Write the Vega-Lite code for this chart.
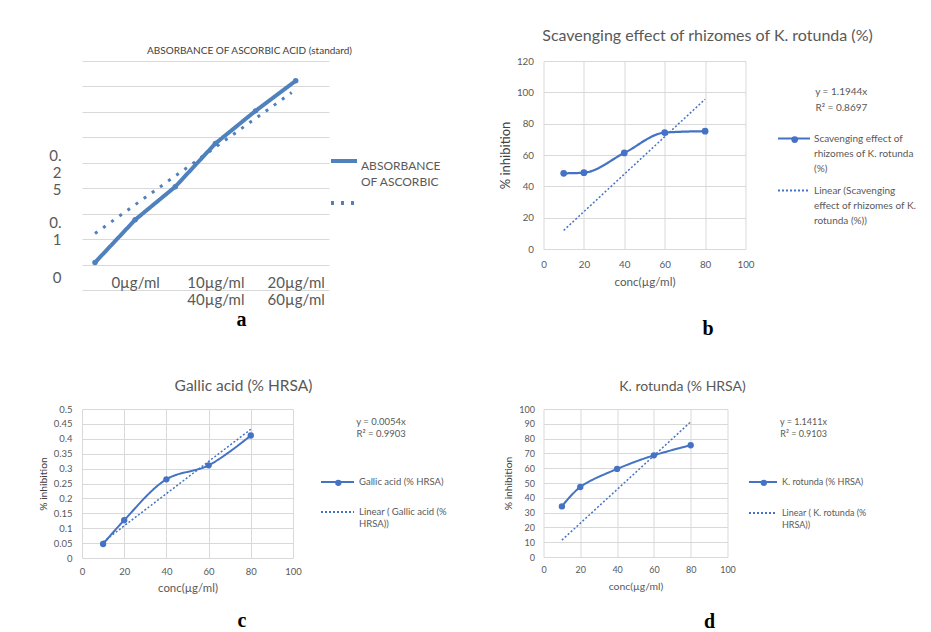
{
  "$schema": "https://vega.github.io/schema/vega-lite/v6.json",
  "background": "white",
  "padding": {"left": 38, "top": 27, "right": 0, "bottom": 0},
  "columns": 2,
  "bounds": "flush",
  "align": "each",
  "spacing": {"row": 119, "column": 214.5},
  "resolve": {"scale": {"strokeDash": "independent", "shape": "independent"}, "legend": {"strokeDash": "independent", "shape": "independent"}},
  "datasets": {
    "aS": [
      {"series": "ABSORBANCE OF ASCORBIC ACID (standard)", "x": 0, "y": 0.004},
      {"series": "ABSORBANCE OF ASCORBIC ACID (standard)", "x": 1, "y": 0.088},
      {"series": "ABSORBANCE OF ASCORBIC ACID (standard)", "x": 2, "y": 0.153},
      {"series": "ABSORBANCE OF ASCORBIC ACID (standard)", "x": 3, "y": 0.238},
      {"series": "ABSORBANCE OF ASCORBIC ACID (standard)", "x": 4, "y": 0.302},
      {"series": "ABSORBANCE OF ASCORBIC ACID (standard)", "x": 5, "y": 0.361}
    ],
    "aT": [
      {"series": "Linear (ABSORBANCE OF ASCORBIC ACID (standard))", "x": 0, "y": 0.061},
      {"series": "Linear (ABSORBANCE OF ASCORBIC ACID (standard))", "x": 4.9, "y": 0.338}
    ],
    "bS": [
      {"series": "Scavenging effect of rhizomes of K. rotunda (%)", "x": 10, "y": 48.3},
      {"series": "Scavenging effect of rhizomes of K. rotunda (%)", "x": 20, "y": 48.7},
      {"series": "Scavenging effect of rhizomes of K. rotunda (%)", "x": 40, "y": 61.3},
      {"series": "Scavenging effect of rhizomes of K. rotunda (%)", "x": 60, "y": 74.3},
      {"series": "Scavenging effect of rhizomes of K. rotunda (%)", "x": 80, "y": 75.2}
    ],
    "bT": [
      {"series": "Linear (Scavenging effect of rhizomes of K. rotunda (%))", "x": 10, "y": 11.9},
      {"series": "Linear (Scavenging effect of rhizomes of K. rotunda (%))", "x": 80, "y": 95.6}
    ],
    "cS": [
      {"series": "Gallic acid (% HRSA)", "x": 10, "y": 0.047},
      {"series": "Gallic acid (% HRSA)", "x": 20, "y": 0.127},
      {"series": "Gallic acid (% HRSA)", "x": 40, "y": 0.264},
      {"series": "Gallic acid (% HRSA)", "x": 60, "y": 0.311},
      {"series": "Gallic acid (% HRSA)", "x": 80, "y": 0.411}
    ],
    "cT": [
      {"series": "Linear ( Gallic acid (% HRSA))", "x": 10, "y": 0.054},
      {"series": "Linear ( Gallic acid (% HRSA))", "x": 80, "y": 0.432}
    ],
    "dS": [
      {"series": "K. rotunda (% HRSA)", "x": 10, "y": 34.2},
      {"series": "K. rotunda (% HRSA)", "x": 20, "y": 47.3},
      {"series": "K. rotunda (% HRSA)", "x": 40, "y": 59.5},
      {"series": "K. rotunda (% HRSA)", "x": 60, "y": 68.7},
      {"series": "K. rotunda (% HRSA)", "x": 80, "y": 75.5}
    ],
    "dT": [
      {"series": "Linear ( K. rotunda (% HRSA))", "x": 10, "y": 11.4},
      {"series": "Linear ( K. rotunda (% HRSA))", "x": 80, "y": 91.3}
    ]
  },
  "concat": [
    {
      "width": 247,
      "height": 229,
      "title": {"text": "a", "orient": "bottom", "anchor": "middle", "frame": "group", "dx": 36, "offset": 3, "font": "Liberation Serif", "fontSize": 20, "fontWeight": "bold", "color": "#000000"},
      "layer": [
        {
          "data": {"name": "aT"},
          "mark": {"type": "line", "strokeWidth": 3, "color": "#4F81BD", "strokeCap": "butt"},
          "encoding": {
            "x": {"field": "x", "type": "quantitative", "scale": {"domain": [-0.324, 5.83], "nice": false, "zero": false},
              "axis": {"orient": "top", "title": "ABSORBANCE OF ASCORBIC ACID (standard)", "labels": false, "grid": false, "titleFontSize": 10, "titleColor": "#404040", "titleX": 167, "titlePadding": 6}},
            "y": {"field": "y", "type": "quantitative", "scale": {"domain": [-0.05, 0.4], "nice": false, "zero": false},
              "axis": {"orient": "right", "labels": false, "grid": true, "values": [-0.05, 0, 0.05, 0.1, 0.15, 0.2, 0.25, 0.3, 0.35, 0.4], "title": null}},
            "strokeDash": {"field": "series", "type": "nominal",
              "scale": {"domain": ["ABSORBANCE OF ASCORBIC ACID (standard)", "Linear (ABSORBANCE OF ASCORBIC ACID (standard))"], "range": [[1, 0], [3, 7]]},
              "legend": {
                "orient": "none", "legendX": 247, "legendY": 85, "title": null, "padding": 0,
                "labelExpr": "datum.value == 'ABSORBANCE OF ASCORBIC ACID (standard)' ? ['ABSORBANCE','OF ASCORBIC'] : ''",
                "labelFontSize": 12, "labelColor": "#595959", "labelFont": "Lato", "labelBaseline": "top", "labelOffset": 2, "labelLimit": 300,
                "symbolType": "stroke", "symbolSize": 676, "symbolStrokeWidth": 4, "symbolStrokeColor": "#4F81BD", "rowPadding": 0,
                "encode": {"labels": {"update": {"lineHeight": {"value": 16}}}}
              }}
          }
        },
        {
          "data": {"name": "aS"},
          "mark": {"type": "line", "strokeWidth": 4, "color": "#4F81BD", "point": {"filled": true, "size": 30, "color": "#4F81BD"}},
          "encoding": {
            "x": {"field": "x", "type": "quantitative",
              "axis": {"orient": "bottom", "offset": -26, "values": [1, 3, 5], "labelExpr": "datum.value == 1 ? '0µg/ml' : datum.value == 3 ? ['10µg/ml','40µg/ml'] : ['20µg/ml','60µg/ml']", "labelFontSize": 15, "labelLineHeight": 17, "labelPadding": 11, "grid": false, "title": null}},
            "y": {"field": "y", "type": "quantitative",
              "axis": {"orient": "left", "values": [-0.0264, 0.0817, 0.215], "labelExpr": "datum.value < 0 ? '0' : datum.value < 0.1 ? ['0.','1'] : ['0.','2','5']", "labelFontSize": 15, "labelLineHeight": 17, "labelPadding": 21, "grid": false, "title": null}},
            "strokeDash": {"field": "series", "type": "nominal"}
          }
        }
      ]
    },
    {
      "width": 202,
      "height": 188,
      "title": {"text": "b", "orient": "bottom", "anchor": "middle", "frame": "group", "dx": 63.5, "offset": 31, "font": "Liberation Serif", "fontSize": 20, "fontWeight": "bold", "color": "#000000"},
      "encoding": {
        "y": {"field": "y", "type": "quantitative", "scale": {"domain": [0, 120]},
          "axis": {"values": [0, 20, 40, 60, 80, 100, 120], "title": "% inhibition", "labelFontSize": 9.8, "labelPadding": 10, "titleFontSize": 13, "titlePadding": 4, "titleColor": "#404040"}}
      },
      "layer": [
        {
          "data": {"name": "bT"},
          "mark": {"type": "line", "strokeWidth": 1.5, "color": "#4472C4"},
          "encoding": {
            "x": {"field": "x", "type": "quantitative", "scale": {"domain": [0, 100]},
              "axis": {"orient": "top", "title": "Scavenging effect of rhizomes of K. rotunda (%)", "labels": false, "grid": false, "titleFontSize": 16, "titleX": 163.5, "titlePadding": 18}},
            "strokeDash": {"field": "series", "type": "nominal",
              "scale": {"domain": ["Scavenging effect of rhizomes of K. rotunda (%)", "Linear (Scavenging effect of rhizomes of K. rotunda (%))"], "range": [[1, 0], [2, 2]]},
              "legend": {
                "orient": "none", "legendX": 233.5, "legendY": 25.5, "padding": 0,
                "title": ["\u200b\u00a0\u00a0\u00a0\u00a0\u00a0\u00a0\u00a0\u00a0\u00a0\u00a0\u00a0\u00a0\u00a0\u00a0\u00a0y = 1.1944x", "\u200b\u00a0\u00a0\u00a0\u00a0\u00a0\u00a0\u00a0\u00a0\u00a0\u00a0\u00a0\u00a0\u00a0\u00a0\u00a0R² = 0.8697"],
                "titleFontSize": 10, "titleFontWeight": "normal", "titleColor": "#595959", "titleFont": "Lato", "titlePadding": 9,
                "labelExpr": "datum.value == 'Scavenging effect of rhizomes of K. rotunda (%)' ? ['Scavenging effect of','rhizomes of K. rotunda','(%)'] : ['Linear (Scavenging','effect of rhizomes of K.','rotunda (%))']",
                "labelFontSize": 10, "labelColor": "#595959", "labelFont": "Lato", "labelBaseline": "middle", "labelOffset": 3, "labelLimit": 300,
                "symbolType": "stroke", "symbolSize": 1024, "symbolStrokeWidth": 2, "symbolStrokeColor": "#4472C4", "rowPadding": -3,
                "encode": {
                  "labels": {"update": {"lineHeight": {"value": 15}}},
                  "title": {"update": {"lineHeight": {"value": 16}}}
                }
              }}
          }
        },
        {
          "data": {"name": "bS"},
          "mark": {"type": "line", "interpolate": "monotone", "strokeWidth": 2.25, "color": "#4472C4"},
          "encoding": {
            "x": {"field": "x", "type": "quantitative",
              "axis": {"orient": "bottom", "values": [0, 20, 40, 60, 80, 100], "title": "conc(µg/ml)", "grid": true, "labelFontSize": 9.8, "labelPadding": 10, "titleFontSize": 11.6, "titlePadding": 8}},
            "strokeDash": {"field": "series", "type": "nominal"}
          }
        },
        {
          "data": {"name": "bS"},
          "mark": {"type": "point", "filled": true, "size": 45, "color": "#4472C4", "opacity": 1},
          "encoding": {
            "x": {"field": "x", "type": "quantitative", "axis": null},
            "shape": {"field": "series", "type": "nominal", "scale": {"range": ["circle"]},
              "legend": {"orient": "none", "legendX": 246.2, "legendY": 73.6, "title": null, "padding": 0, "labelExpr": "''", "symbolSize": 45, "symbolFillColor": "#4472C4", "symbolStrokeColor": "#4472C4", "symbolOpacity": 1}}
          }
        }
      ]
    },
    {
      "width": 211,
      "height": 149,
      "title": {"text": "c", "orient": "bottom", "anchor": "middle", "frame": "group", "dx": 54.5, "offset": 17, "font": "Liberation Serif", "fontSize": 20, "fontWeight": "bold", "color": "#000000"},
      "encoding": {
        "y": {"field": "y", "type": "quantitative", "scale": {"domain": [0, 0.5]},
          "axis": {"values": [0, 0.05, 0.1, 0.15, 0.2, 0.25, 0.3, 0.35, 0.4, 0.45, 0.5], "labelExpr": "format(datum.value, '.2~f')", "title": "% inhibition", "labelFontSize": 9.5, "labelPadding": 10, "titleFontSize": 10.3, "titlePadding": 5, "titleColor": "#404040"}}
      },
      "layer": [
        {
          "data": {"name": "cT"},
          "mark": {"type": "line", "strokeWidth": 1.5, "color": "#4472C4"},
          "encoding": {
            "x": {"field": "x", "type": "quantitative", "scale": {"domain": [0, 100]},
              "axis": {"orient": "top", "title": "Gallic acid (% HRSA)", "labels": false, "grid": false, "titleFontSize": 15.5, "titleX": 161, "titlePadding": 16}},
            "strokeDash": {"field": "series", "type": "nominal",
              "scale": {"domain": ["Gallic acid (% HRSA)", "Linear ( Gallic acid (% HRSA))"], "range": [[1, 0], [2, 2]]},
              "legend": {
                "orient": "none", "legendX": 238, "legendY": 8, "padding": 0,
                "title": ["\u200b\u00a0\u00a0\u00a0\u00a0\u00a0\u00a0\u00a0\u00a0\u00a0\u00a0\u00a0\u00a0\u00a0\u00a0\u00a0y = 0.0054x", "\u200b\u00a0\u00a0\u00a0\u00a0\u00a0\u00a0\u00a0\u00a0\u00a0\u00a0\u00a0\u00a0\u00a0\u00a0\u00a0R² = 0.9903"],
                "titleFontSize": 9.5, "titleFontWeight": "normal", "titleColor": "#595959", "titleFont": "Lato", "titlePadding": 26,
                "labelExpr": "datum.value == 'Gallic acid (% HRSA)' ? 'Gallic acid (% HRSA)' : ['Linear ( Gallic acid (%','HRSA))']",
                "labelFontSize": 9.5, "labelColor": "#595959", "labelFont": "Lato", "labelBaseline": "middle", "labelOffset": 4, "labelLimit": 300,
                "symbolType": "stroke", "symbolSize": 1089, "symbolStrokeWidth": 2, "symbolStrokeColor": "#4472C4", "rowPadding": 8,
                "encode": {
                  "labels": {"update": {"lineHeight": {"value": 12}}},
                  "title": {"update": {"lineHeight": {"value": 12}}}
                }
              }}
          }
        },
        {
          "data": {"name": "cS"},
          "mark": {"type": "line", "interpolate": "catmull-rom", "strokeWidth": 2, "color": "#4472C4"},
          "encoding": {
            "x": {"field": "x", "type": "quantitative",
              "axis": {"orient": "bottom", "values": [0, 20, 40, 60, 80, 100], "title": "conc(µg/ml)", "grid": true, "labelFontSize": 9.5, "labelPadding": 8, "titleFontSize": 11.4, "titlePadding": 7}},
            "strokeDash": {"field": "series", "type": "nominal"}
          }
        },
        {
          "data": {"name": "cS"},
          "mark": {"type": "point", "filled": true, "size": 40, "color": "#4472C4", "opacity": 1},
          "encoding": {
            "x": {"field": "x", "type": "quantitative", "axis": null},
            "shape": {"field": "series", "type": "nominal", "scale": {"range": ["circle"]},
              "legend": {"orient": "none", "legendX": 251.3, "legendY": 68.8, "title": null, "padding": 0, "labelExpr": "''", "symbolSize": 40, "symbolFillColor": "#4472C4", "symbolStrokeColor": "#4472C4", "symbolOpacity": 1}}
          }
        }
      ]
    },
    {
      "width": 184,
      "height": 148,
      "title": {"text": "d", "orient": "bottom", "anchor": "middle", "frame": "group", "dx": 74, "offset": 21, "font": "Liberation Serif", "fontSize": 20, "fontWeight": "bold", "color": "#000000"},
      "encoding": {
        "y": {"field": "y", "type": "quantitative", "scale": {"domain": [0, 100]},
          "axis": {"values": [0, 10, 20, 30, 40, 50, 60, 70, 80, 90, 100], "title": "% inhibition", "labelFontSize": 9, "labelPadding": 9, "titleFontSize": 10.3, "titlePadding": 5, "titleColor": "#404040"}}
      },
      "layer": [
        {
          "data": {"name": "dT"},
          "mark": {"type": "line", "strokeWidth": 1.5, "color": "#4472C4"},
          "encoding": {
            "x": {"field": "x", "type": "quantitative", "scale": {"domain": [0, 100]},
              "axis": {"orient": "top", "title": "K. rotunda (% HRSA)", "labels": false, "grid": false, "titleFontSize": 14, "titleX": 138.5, "titlePadding": 16}},
            "strokeDash": {"field": "series", "type": "nominal",
              "scale": {"domain": ["K. rotunda (% HRSA)", "Linear ( K. rotunda (% HRSA))"], "range": [[1, 0], [2, 2]]},
              "legend": {
                "orient": "none", "legendX": 204.5, "legendY": 9, "padding": 0,
                "title": ["\u200b\u00a0\u00a0\u00a0\u00a0\u00a0\u00a0\u00a0\u00a0\u00a0\u00a0\u00a0\u00a0\u00a0\u00a0y = 1.1411x", "\u200b\u00a0\u00a0\u00a0\u00a0\u00a0\u00a0\u00a0\u00a0\u00a0\u00a0\u00a0\u00a0\u00a0\u00a0R² = 0.9103"],
                "titleFontSize": 9, "titleFontWeight": "normal", "titleColor": "#595959", "titleFont": "Lato", "titlePadding": 28,
                "labelExpr": "datum.value == 'K. rotunda (% HRSA)' ? 'K. rotunda (% HRSA)' : ['Linear ( K. rotunda (%','HRSA))']",
                "labelFontSize": 9, "labelColor": "#595959", "labelFont": "Lato", "labelBaseline": "middle", "labelOffset": 4, "labelLimit": 300,
                "symbolType": "stroke", "symbolSize": 784, "symbolStrokeWidth": 2, "symbolStrokeColor": "#4472C4", "rowPadding": 11,
                "encode": {
                  "labels": {"update": {"lineHeight": {"value": 12}}},
                  "title": {"update": {"lineHeight": {"value": 12}}}
                }
              }}
          }
        },
        {
          "data": {"name": "dS"},
          "mark": {"type": "line", "interpolate": "catmull-rom", "strokeWidth": 2, "color": "#4472C4"},
          "encoding": {
            "x": {"field": "x", "type": "quantitative",
              "axis": {"orient": "bottom", "values": [0, 20, 40, 60, 80, 100], "title": "conc(µg/ml)", "grid": true, "labelFontSize": 9, "labelPadding": 8, "titleFontSize": 10.4, "titlePadding": 7}},
            "strokeDash": {"field": "series", "type": "nominal"}
          }
        },
        {
          "data": {"name": "dS"},
          "mark": {"type": "point", "filled": true, "size": 40, "color": "#4472C4", "opacity": 1},
          "encoding": {
            "x": {"field": "x", "type": "quantitative", "axis": null},
            "shape": {"field": "series", "type": "nominal", "scale": {"range": ["circle"]},
              "legend": {"orient": "none", "legendX": 215.3, "legendY": 68.8, "title": null, "padding": 0, "labelExpr": "''", "symbolSize": 40, "symbolFillColor": "#4472C4", "symbolStrokeColor": "#4472C4", "symbolOpacity": 1}}
          }
        }
      ]
    }
  ],
  "config": {
    "font": "Lato",
    "view": {"stroke": null},
    "axis": {"labelFont": "Lato", "titleFont": "Lato", "labelColor": "#595959", "titleColor": "#595959", "gridColor": "#D9D9D9", "gridWidth": 1, "domain": false, "ticks": false, "titleFontWeight": "normal", "labelFlush": false, "labelOverlap": false}
  }
}
